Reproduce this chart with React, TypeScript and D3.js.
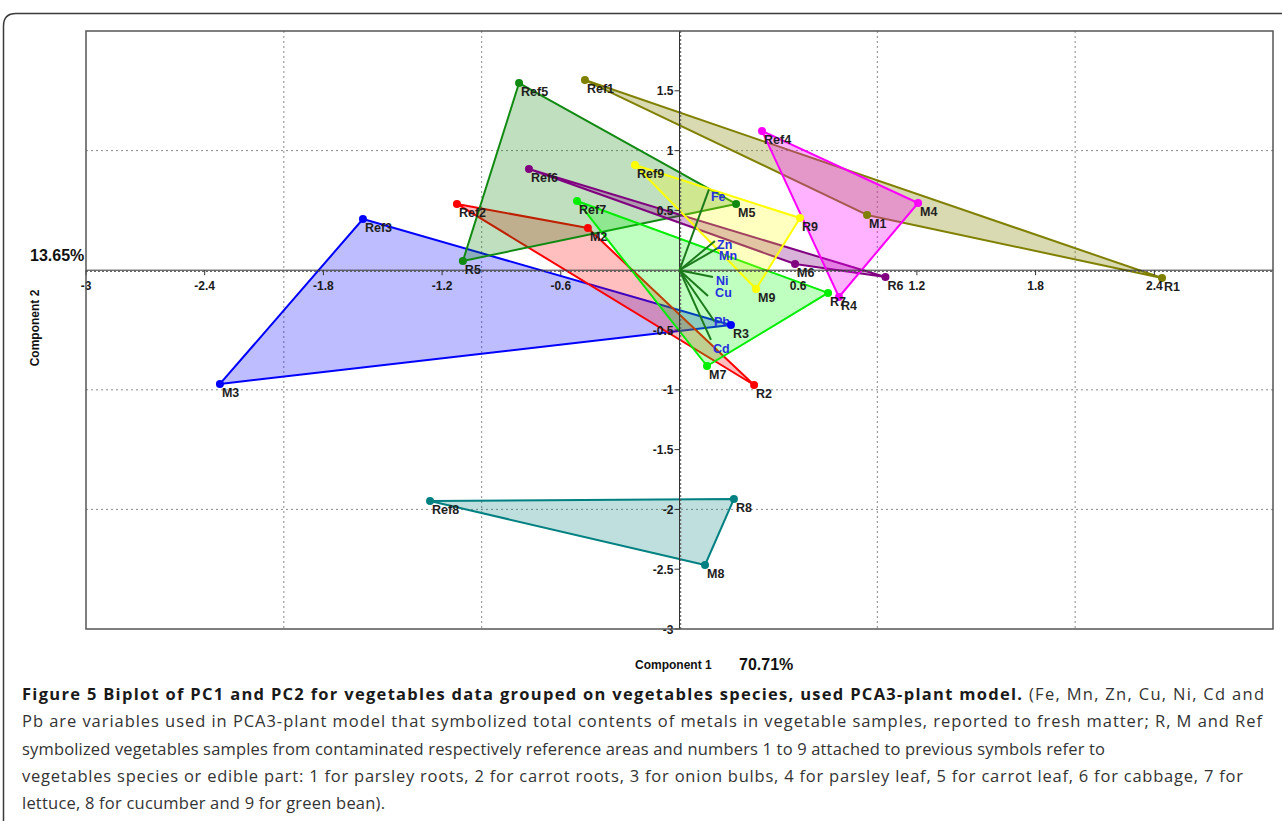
import React from 'react';
import * as d3 from 'd3';

// sample scores (PC1, PC2)
const groups = [
  { id: '3', stroke: '#0000ff', fill: 'rgba(0,0,255,0.26)', names: ['Ref3', 'R3', 'M3'], xs: [-1.6, 0.26, -2.323], ys: [0.428, -0.458, -0.951] },
  { id: '8', stroke: '#008080', fill: 'rgba(0,128,128,0.25)', names: ['Ref8', 'R8', 'M8'], xs: [-1.261, 0.275, 0.129], ys: [-1.93, -1.913, -2.465] },
  { id: '2', stroke: '#ff0000', fill: 'rgba(255,0,0,0.25)', names: ['Ref2', 'M2', 'R2'], xs: [-1.125, -0.463, 0.377], ys: [0.554, 0.352, -0.96] },
  { id: '5', stroke: '#118a11', fill: 'rgba(0,128,0,0.25)', names: ['Ref5', 'M5', 'R5'], xs: [-0.811, 0.286, -1.095], ys: [1.565, 0.554, 0.077] },
  { id: '7', stroke: '#00ee00', fill: 'rgba(0,255,0,0.25)', names: ['Ref7', 'R7', 'M7'], xs: [-0.518, 0.751, 0.139], ys: [0.579, -0.19, -0.801] },
  { id: '6', stroke: '#800080', fill: 'rgba(128,0,128,0.3)', names: ['Ref6', 'R6', 'M6'], xs: [-0.761, 1.041, 0.584], ys: [0.846, -0.057, 0.052] },
  { id: '9', stroke: '#ffff00', fill: 'rgba(255,255,0,0.25)', names: ['Ref9', 'R9', 'M9'], xs: [-0.225, 0.609, 0.387], ys: [0.88, 0.436, -0.157] },
  { id: '1', stroke: '#808000', fill: 'rgba(128,128,0,0.3)', names: ['Ref1', 'R1', 'M1'], xs: [-0.478, 2.439, 0.948], ys: [1.59, -0.065, 0.462] },
  { id: '4', stroke: '#ff00ff', fill: 'rgba(255,0,255,0.3)', names: ['Ref4', 'M4', 'R4'], xs: [0.417, 1.206, 0.806], ys: [1.164, 0.562, -0.224] },
];

// variable loadings and where their labels sit
const variables = ['Fe', 'Zn', 'Mn', 'Ni', 'Cu', 'Pb', 'Cd'];
const loadX = [0.149, 0.179, 0.195, 0.169, 0.144, 0.179, 0.159];
const loadY = [0.676, 0.244, 0.186, -0.057, -0.216, -0.433, -0.583];
const labelX = [0.159, 0.19, 0.2, 0.185, 0.18, 0.174, 0.169];
const labelY = [0.577, 0.175, 0.082, -0.12, -0.222, -0.468, -0.694];

const xTicks = [-3, -2.4, -1.8, -1.2, -0.6, 0.6, 1.2, 1.8, 2.4];
const yTicks = [1.5, 1, 0.5, -0.5, -1, -1.5, -2, -2.5, -3];
const xGrid = [-2, -1, 1, 2];
const yGrid = [1, -1, -2];

const captionBold = 'Figure 5 Biplot of PC1 and PC2 for vegetables data grouped on vegetables species, used PCA3-plant model.';
const captionLines = [
  ' (Fe, Mn, Zn, Cu, Ni, Cd and',
  'Pb are variables used in PCA3-plant model that symbolized total contents of metals in vegetable samples, reported to fresh matter; R, M and Ref',
  'symbolized vegetables samples from contaminated respectively reference areas and numbers 1 to 9 attached to previous symbols refer to',
  'vegetables species or edible part: 1 for parsley roots, 2 for carrot roots, 3 for onion bulbs, 4 for parsley leaf, 5 for carrot leaf, 6 for cabbage, 7 for',
  'lettuce, 8 for cucumber and 9 for green bean).',
];
const captionWidths = [1242, 1240, 1083, 1221, 363];

export default function App() {
  const W = 1282;
  const H = 821;
  const box = { left: 86, right: 1273, top: 31, bottom: 629 };

  const x = d3.scaleLinear().domain([-3, 3]).range([box.left, box.right]);
  const y = d3.scaleLinear().domain([-3, 2]).range([box.bottom, box.top]);
  const x0 = x(0);
  const y0 = y(0);

  const line = d3.line<[number, number]>().x(d => x(d[0])).y(d => y(d[1]));
  const fontAxis = '"Liberation Sans", Arial, sans-serif';
  const fontCap = '"Open Sans", "Noto Sans", sans-serif';

  return (
    <svg width={W} height={H} style={{ display: 'block', background: '#fff' }}>
      <style>{`body{margin:0}`}</style>
      {/* outer frame */}
      <path d={`M3.5,${H + 10} L3.5,26 Q3.5,13.5 16,13.5 L${W + 10},13.5`} fill="none" stroke="#3a3a3a" strokeWidth={1.5} />

      {/* grid */}
      <g stroke="#8a8a8a" strokeWidth={1} strokeDasharray="2,3">
        {xGrid.map(v => <line key={'gx' + v} x1={x(v)} x2={x(v)} y1={box.top} y2={box.bottom} />)}
        {yGrid.map(v => <line key={'gy' + v} x1={box.left} x2={box.right} y1={y(v)} y2={y(v)} />)}
      </g>

      {/* sample groups */}
      {groups.map(g => {
        const pts = g.xs.map((v, i) => [v, g.ys[i]] as [number, number]);
        return (
          <path key={'p' + g.id} d={line(pts)! + 'Z'} fill={g.fill} stroke={g.stroke} strokeWidth={2} strokeLinejoin="round" />
        );
      })}

      {/* axes through origin */}
      <g>
        <line x1={box.left} x2={box.right} y1={y0} y2={y0} stroke="#333" strokeWidth={1} />
        <line x1={box.left} x2={box.right} y1={y0 + 1.2} y2={y0 + 1.2} stroke="#555" strokeWidth={1} strokeDasharray="2,2" />
        <line x1={x0} x2={x0} y1={box.top} y2={box.bottom} stroke="#333" strokeWidth={1} />
        <line x1={x0 + 1.2} x2={x0 + 1.2} y1={box.top} y2={box.bottom} stroke="#555" strokeWidth={1} strokeDasharray="2,2" />
      </g>

      {/* loadings */}
      <g stroke="#1c7a1c" strokeWidth={2}>
        {variables.map((v, i) => (
          <line key={'v' + v} x1={x0} y1={y0} x2={x(loadX[i])} y2={y(loadY[i])} />
        ))}
      </g>
      <g fill="#2530e0" fontFamily={fontAxis} fontWeight="bold" fontSize={12.5}>
        {variables.map((v, i) => (
          <text key={'vl' + v} x={x(labelX[i])} y={y(labelY[i])}>{v}</text>
        ))}
      </g>

      {/* points and labels */}
      {groups.map(g => (
        <g key={'m' + g.id}>
          {g.xs.map((v, i) => (
            <circle key={i} cx={x(v)} cy={y(g.ys[i])} r={4} fill={g.stroke} />
          ))}
        </g>
      ))}
      <g fill="#1e1e1e" fontFamily={fontAxis} fontWeight="bold" fontSize={12.5}>
        {groups.map(g => g.names.map((n, i) => (
          <text key={n} x={x(g.xs[i]) + 2} y={y(g.ys[i]) + 13}>{n}</text>
        )))}
      </g>

      {/* ticks */}
      <g fontFamily={fontAxis} fontWeight="bold" fontSize={12} fill="#1a1a1a">
        {xTicks.map(v => (
          <g key={'xt' + v}>
            <line x1={x(v)} x2={x(v)} y1={y0} y2={y0 + 5} stroke="#333" strokeWidth={1} />
            <text x={x(v)} y={y0 + 20} textAnchor="middle">{v < 0 ? '-' + Math.abs(v) : v}</text>
          </g>
        ))}
        {yTicks.map(v => (
          <g key={'yt' + v}>
            <line x1={x0 - 5} x2={x0} y1={y(v)} y2={y(v)} stroke="#333" strokeWidth={1} />
            <text x={x0 - 6} y={y(v) + 4.5} textAnchor="end">{v < 0 ? '-' + Math.abs(v) : v}</text>
          </g>
        ))}
      </g>

      {/* plot frame */}
      <rect x={box.left} y={box.top} width={box.right - box.left} height={box.bottom - box.top} fill="none" stroke="#555" strokeWidth={1.5} />

      {/* axis titles */}
      <g fontFamily={fontAxis} fontWeight="bold" fill="#111">
        <text x={30} y={261} fontSize={16}>13.65%</text>
        <text transform="translate(39,328) rotate(-90)" textAnchor="middle" fontSize={12}>Component 2</text>
        <text x={635} y={669} fontSize={12}>Component 1</text>
        <text x={739} y={670} fontSize={16}>70.71%</text>
      </g>

      {/* caption */}
      <g fontFamily={fontCap} fontSize={16.5} fill="#333">
        {captionLines.map((l, i) => (
          <text key={'c' + i} x={22} y={700 + i * 27.3} textLength={captionWidths[i]} lengthAdjust="spacing">
            {i === 0 ? <tspan fontWeight="bold" fill="#1a1a1a">{captionBold}</tspan> : null}
            {l}
          </text>
        ))}
      </g>
    </svg>
  );
}
